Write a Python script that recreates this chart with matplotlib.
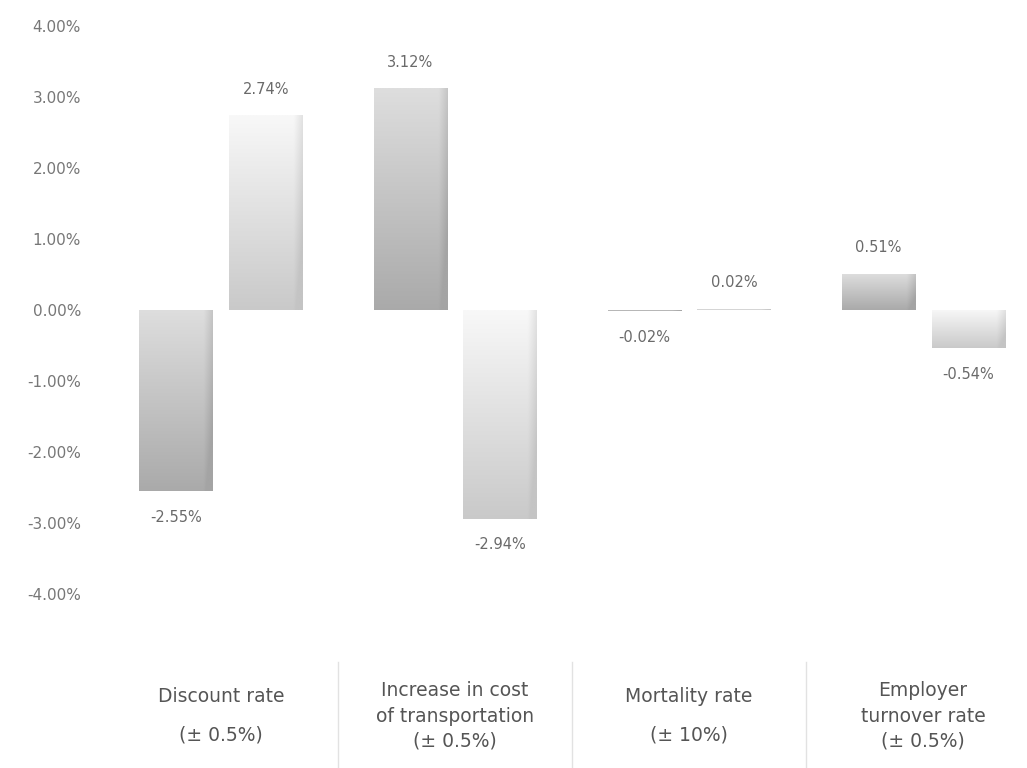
import matplotlib
matplotlib.use("Agg")
import matplotlib.pyplot as plt
import matplotlib.transforms as mtransforms
import numpy as np
from matplotlib.colors import LinearSegmentedColormap

categories = ["Discount rate\n(± 0.5%)",
              "Increase in cost\nof transportation\n(± 0.5%)",
              "Mortality rate\n(± 10%)",
              "Employer\nturnover rate\n(± 0.5%)"]
first_case = [-2.55, 3.12, -0.02, 0.51]
second_case = [2.74, -2.94, 0.02, -0.54]
y_ticks = [4, 3, 2, 1, 0, -1, -2, -3, -4]

text_grey = "#6a6a6a"


def gradient_bars(ax, xs, values, width, top, bottom):
    bars = ax.bar(xs, values, width, color="none", edgecolor="none")
    cmap = LinearSegmentedColormap.from_list("g", [top, bottom])
    grad = np.linspace(0, 1, 256).reshape(-1, 1)
    # slight darkening towards the right edge
    side = np.linspace(0, 1, 64).reshape(1, -1)
    shade = np.clip((side - 0.88) / 0.12, 0, 1) * 0.4
    img = np.clip(grad * 0.9 + shade, 0, 1)
    for b in bars:
        x0 = b.get_x()
        x1 = x0 + b.get_width()
        y0, y1 = sorted([b.get_y(), b.get_y() + b.get_height()])
        im = ax.imshow(img, cmap=cmap, vmin=0, vmax=1, aspect="auto",
                       extent=[x0, x1, y0, y1], origin="upper",
                       interpolation="bilinear", zorder=2)
        im.set_clip_path(b)
    return bars


def label_bars(ax, xs, values):
    for x, v in zip(xs, values):
        if v >= 0:
            ax.text(x, v + 0.26, f"{v:.2f}%", ha="center", va="bottom",
                    fontsize=10.5, color=text_grey)
        else:
            ax.text(x, v - 0.26, f"{v:.2f}%", ha="center", va="top",
                    fontsize=10.5, color=text_grey)


fig = plt.figure(figsize=(10.27, 7.68), dpi=100)
ax = fig.add_axes([95 / 1027, 148 / 768, 932 / 1027, 610 / 768])

x = np.arange(len(categories))
w = 0.312
off = 0.192
gradient_bars(ax, x - off, first_case, w, "#dedede", "#a4a4a4")
gradient_bars(ax, x + off, second_case, w, "#f8f8f8", "#c4c4c4")
label_bars(ax, x - off, first_case)
label_bars(ax, x + off, second_case)

ax.set_xlim(-0.538, 3.444)
ax.set_ylim(-4.366, 4.225)
ax.set_yticks(y_ticks)
ax.set_yticklabels([f"{t:.2f}%" for t in y_ticks], fontsize=11, color="#777777")
ax.tick_params(axis="y", length=0, pad=10)
ax.set_xticks([])
for s in ax.spines.values():
    s.set_visible(False)

# category names and separators under the plot
below = mtransforms.blended_transform_factory(ax.transData, fig.transFigure)
for i, name in enumerate(categories):
    n_lines = name.count("\n") + 1
    ax.text(i, 52 / 768, name, transform=below,
            ha="center", va="center", fontsize=13.5, color="#555555",
            linespacing=2.3 if n_lines == 2 else 1.4, clip_on=False)
for sep in [0.5, 1.5, 2.5]:
    ax.plot([sep, sep], [0, 106 / 768], transform=below,
            color="#e2e2e2", lw=1, clip_on=False)

fig.savefig("out.png", dpi=100)
